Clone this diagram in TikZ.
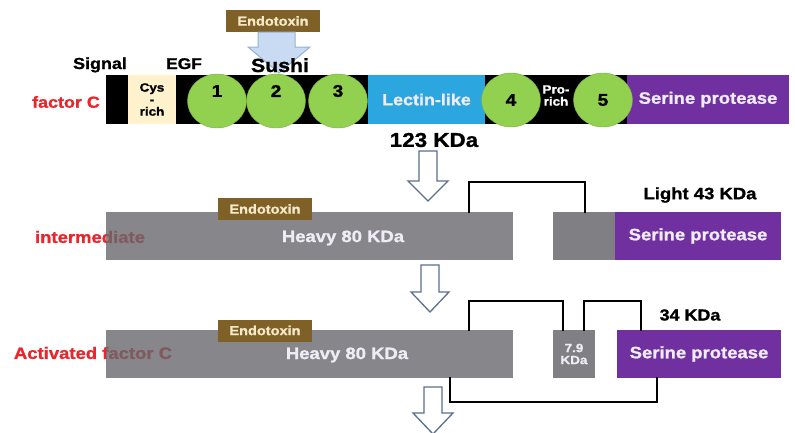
\documentclass[tikz,border=0pt]{standalone}
\usepackage{fontspec}
\setmainfont{Liberation Sans}[FakeStretch=1.12,BoldFeatures={FakeBold=1.2}]
\usetikzlibrary{shapes.geometric}
\definecolor{cysbeige}{RGB}{255,242,204}
\definecolor{lectinblue}{RGB}{43,166,222}
\definecolor{serpurple}{RGB}{112,48,160}
\definecolor{sushigreen}{RGB}{146,208,80}
\definecolor{endobrown}{RGB}{127,96,38}
\definecolor{endotext}{RGB}{245,233,201}
\definecolor{labelred}{RGB}{232,38,44}
\definecolor{chaingray}{RGB}{104,104,110}
\definecolor{chaingraysolid}{RGB}{127,127,132}
\definecolor{arrowline}{RGB}{91,111,142}
\definecolor{bluefill}{RGB}{201,219,242}
\definecolor{blueline}{RGB}{150,176,214}
\definecolor{lighttext}{RGB}{240,236,246}
\newcommand{\fsz}[1]{\fontsize{#1}{#1}\selectfont}
\begin{document}
\begin{tikzpicture}[x=1pt,y=-1pt,
  seg/.style={draw=none,inner sep=0pt,outer sep=0pt,anchor=center},
  lbl/.style={inner sep=0pt,font=\bfseries\fsz{16}},
  redlbl/.style={lbl,text=labelred,font=\bfseries\fsz{16.5}},
  whitelbl/.style={lbl,text=lighttext},
  circ/.style={ellipse,fill=sushigreen,draw=sushigreen!85!black,line width=0.4pt,
    minimum width=59pt,minimum height=54pt,inner sep=0pt,font=\bfseries\fsz{17}},
  digit/.style={inner sep=0pt,font=\bfseries\fsz{17}},
  endo/.style={seg,fill=endobrown,text=endotext,font=\bfseries\fsz{13},
    minimum width=94pt,minimum height=22pt},
  heavybar/.style={seg,fill=chaingray,fill opacity=0.8,text opacity=1,
    minimum width=407pt,minimum height=48pt},
  link/.style={draw=black,line width=2.4pt,line cap=rect},
  hollowarrow/.style={draw=arrowline,fill=white,line width=1.3pt,line join=miter},
  bluearrow/.style={draw=blueline,fill=bluefill,line width=1pt}]
\useasboundingbox (0,0) rectangle (795,432);

% ---------------- factor C ----------------
\node[endo] (endo0) at (273,21) {Endotoxin};
\draw[bluearrow] (258,32) -- (258,47) -- (248,47) -- (279,73) -- (310,47)
  -- (295,47) -- (295,32) -- cycle;

\node[seg,fill=black,minimum width=683pt,minimum height=49pt] (bar) at (447.5,99.5) {};
\node[seg,fill=cysbeige,minimum width=48pt,minimum height=49pt,align=center,
  font=\bfseries\fsz{12}] (cys) at (152,99.5)
  {\fontsize{12}{16}\selectfont Cys\\-\\rich};
\node[seg,fill=lectinblue,minimum width=117pt,minimum height=49pt,
  text=lighttext,font=\bfseries\fsz{16}] (lectin) at (426.5,99.5) {Lectin-like};
\node[seg,fill=serpurple,minimum width=162pt,minimum height=49pt,
  text=lighttext,font=\bfseries\fsz{16.5}] (ser0) at (708,99.5) {Serine protease};
\node[inner sep=0pt,text=white,align=center,font=\bfseries\fsz{12}] (pro) at (556,95.5)
  {\fontsize{12}{15}\selectfont Pro-\\rich};

\node[circ,label={[digit,yshift=10pt]center:1}] (c1) at (217,101) {};
\node[circ,label={[digit,yshift=10pt]center:2}] (c2) at (276,101) {};
\node[circ,label={[digit,yshift=10pt]center:3}] (c3) at (338,101) {};
\node[circ] (c4) at (511,100) {4};
\node[circ] (c5) at (603,100) {5};

\node[lbl,anchor=base] (signal) at (100,69) {Signal};
\node[lbl,anchor=base,font=\bfseries\fsz{15.5}] (egf) at (184,69) {EGF};
\node[lbl,anchor=base,font=\bfseries\fsz{19}] (sushi) at (280,72) {Sushi};
\node[redlbl,font=\bfseries\fsz{16}] (fc) at (66,102) {factor C};
\node[lbl,font=\bfseries\fsz{20}] (kda123) at (434,140) {123 KDa};

% arrow 1
\draw[hollowarrow] (419,151) -- (419,181) -- (408,181) -- (428,201) -- (448,181)
  -- (437,181) -- (437,151) -- cycle;

% ---------------- intermediate ----------------
\node[redlbl] (inter) at (90,237) {intermediate};
\node[heavybar] (heavyA) at (309.5,236) {};
\node[whitelbl,font=\bfseries\fsz{16.5}] (heavyAt) at (343,238) {Heavy 80 KDa};
\node[endo] (endoA) at (265,209) {Endotoxin};
\node[seg,fill=chaingraysolid,minimum width=62pt,minimum height=48pt] (lightA) at (584,236) {};
\node[seg,fill=serpurple,minimum width=166pt,minimum height=48pt,
  text=lighttext,font=\bfseries\fsz{16.5}] (serA) at (698,236) {Serine protease};
\node[lbl,font=\bfseries\fsz{16.5}] (light43) at (700,195) {Light 43 KDa};
\draw[link] (469,0 |- heavyA.north) -- (469,182) -| (585,0 |- lightA.north);

% arrow 2
\draw[hollowarrow] (421,265) -- (421,292) -- (411,292) -- (430,312) -- (449,292)
  -- (439,292) -- (439,265) -- cycle;

% ---------------- activated factor C ----------------
\node[redlbl] (act) at (93,353) {Activated factor C};
\node[heavybar] (heavyB) at (309.5,354) {};
\node[whitelbl,font=\bfseries\fsz{16.5}] (heavyBt) at (347,355) {Heavy 80 KDa};
\node[endo] (endoB) at (265,330.5) {Endotoxin};
\node[seg,fill=chaingraysolid,minimum width=42pt,minimum height=48pt,
  text=lighttext,align=center,font=\bfseries\fsz{12}] (small79) at (574,354)
  {\fontsize{12}{19}\selectfont 7.9\\KDa};
\node[seg,fill=serpurple,minimum width=164pt,minimum height=48pt,
  text=lighttext,font=\bfseries\fsz{16.5}] (serB) at (699,354) {Serine protease};
\node[lbl,font=\bfseries\fsz{16}] (kda34) at (690,315) {34 KDa};
\draw[link] (469,0 |- heavyB.north) -- (469,301) -| (563,0 |- small79.north);
\draw[link] (584,0 |- small79.north) -- (584,301) -| (641,0 |- serB.north);
\draw[link] (450,0 |- heavyB.south) -- (450,402) -| (657,0 |- serB.south);

% arrow 3
\draw[hollowarrow] (424,387) -- (424,413) -- (413,413) -- (433,434) -- (453,413)
  -- (442,413) -- (442,387) -- cycle;
\end{tikzpicture}
\end{document}
